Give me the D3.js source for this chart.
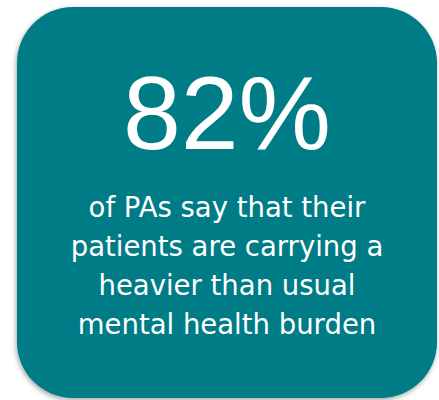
<!DOCTYPE html>
<html>
<head>
<meta charset="utf-8">
<script src="https://cdn.jsdelivr.net/npm/d3@7"></script>
<style>
  html, body { margin: 0; padding: 0; background: #fff; }
  svg { display: block; }
</style>
</head>
<body>
<div id="chart"></div>
<script>
// stat card data
const statValue = [82]
const statSuffix = ["%"]
const captionLines = [
    "of PAs say that their",
    "patients are carrying a",
    "heavier than usual",
    "mental health burden"
]

const width = 439
const height = 400
const cardColor = "#037b86"

const svg = d3.select("#chart").append("svg")
    .attr("width", width)
    .attr("height", height)
    .attr("viewBox", [0, 0, width, height])

const defs = svg.append("defs")
const shadow = defs.append("filter")
    .attr("id", "shadow")
    .attr("x", "-10%").attr("y", "-10%")
    .attr("width", "120%").attr("height", "120%")
shadow.append("feDropShadow")
    .attr("dx", -1)
    .attr("dy", 2)
    .attr("stdDeviation", 2.5)
    .attr("flood-color", "#000")
    .attr("flood-opacity", 0.35)

// card
svg.append("rect")
    .attr("x", 17)
    .attr("y", 7)
    .attr("width", 420)
    .attr("height", 391)
    .attr("rx", 56)
    .attr("ry", 56)
    .attr("fill", cardColor)
    .attr("filter", "url(#shadow)")

const cx = 227

// big number
svg.append("text")
    .attr("x", cx)
    .attr("y", 149)
    .attr("text-anchor", "middle")
    .attr("fill", "#fff")
    .style("font-family", "'Liberation Sans', Arial, sans-serif")
    .style("font-size", "104px")
    .text(statValue[0] + statSuffix[0])

// caption lines, positioned with a point scale
const y = d3.scalePoint()
    .domain(d3.range(captionLines.length))
    .range([217, 334])

svg.append("g")
    .selectAll("text")
    .data(captionLines)
    .join("text")
    .attr("x", cx)
    .attr("y", (d, i) => y(i))
    .attr("text-anchor", "middle")
    .attr("fill", "#fff")
    .style("font-family", "'DejaVu Sans', sans-serif")
    .style("font-size", "27.5px")
    .text(d => d)
</script>
</body>
</html>
